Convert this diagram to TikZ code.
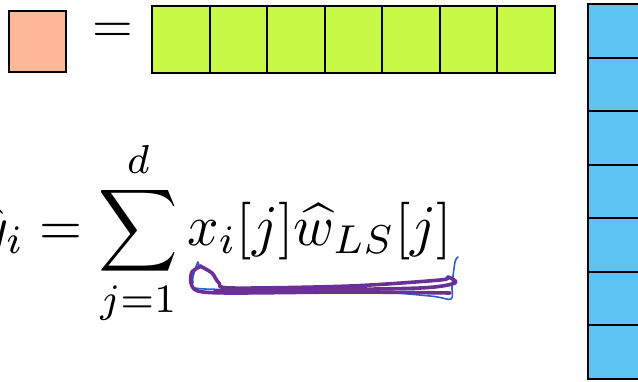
\documentclass[tikz,border=0pt]{standalone}
\usepackage{amsmath}
\usepackage{tikz}
\usetikzlibrary{positioning,calc}
\definecolor{peachCell}{RGB}{253,184,153}
\definecolor{limeCell}{RGB}{198,250,70}
\definecolor{skyCell}{RGB}{92,195,242}
\definecolor{penPurple}{RGB}{106,48,152}
\definecolor{penBlue}{RGB}{45,95,200}

\begin{document}
\begin{tikzpicture}[x=0.5pt,y=-0.5pt,
    cell/.style={draw=black,line width=1pt,inner sep=0pt,minimum width=28.8pt},
    rowcell/.style={cell,fill=limeCell,minimum height=33.5pt},
    colcell/.style={cell,fill=skyCell,minimum height=26.8pt},
    penline/.style={line cap=round,line join=round}]
  \useasboundingbox (0,0) rectangle (638,381);
  \clip (0,0) rectangle (638,381);
  % one entry = a row of d numbers
  \node[cell,fill=peachCell,minimum width=28.5pt,minimum height=30.5pt] (entry) at (37.5,41.5){};
  \node[scale=2.62] (eqtop) at (112.5,33){$=$};
  \foreach \i in {0,...,6}{
    \node[rowcell] (x\i) at ({152+57.57*(\i+0.5)},39.5){};
  }
  \foreach \k in {0,...,6}{
    \node[colcell] (w\k) at (616.5,{4+53.57*(\k+0.5)}){};
  }
  \node[xscale=2.76,yscale=2.88,inner sep=0pt,anchor=base east] (pred) at (453,245)
    {$\displaystyle \hat{y}_i = \sum_{j=1}^{d} x_i[j]\widehat{w}_{LS}[j]$};
  % hand-drawn underline
  \draw[penline,penBlue,line width=0.8pt] plot[smooth] coordinates
    {(199,268) (198,262) (195,270) (193,282) (205,289) (350,290) (430,296) (451,299) (452,285) (455,262) (458,257)};
  \draw[penline,penPurple,line width=1.8pt] plot[smooth] coordinates
    {(201,266) (192,272) (191,283) (198,291) (230,293) (350,292) (450,293)};
  \draw[penline,penPurple,line width=1.8pt] plot[smooth] coordinates
    {(200,266) (212,273) (219,283) (232,288) (350,286) (440,280) (448,277) (455,283) (420,288) (300,290) (215,291)};
\end{tikzpicture}
\end{document}
